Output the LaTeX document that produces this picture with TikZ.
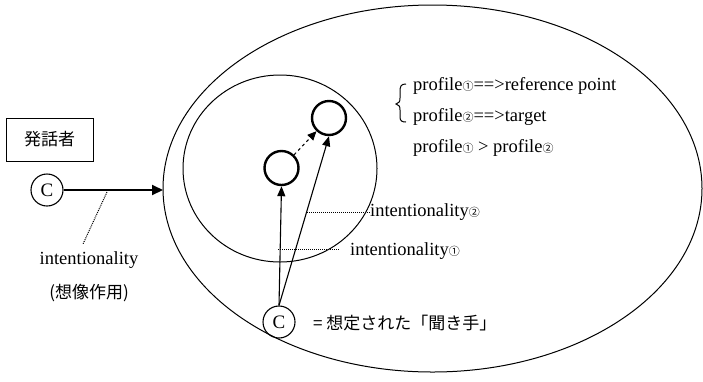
\documentclass[tikz,border=0pt]{standalone}
\usepackage{fontspec}
\setmainfont{Liberation Serif}
\newfontfamily\jp{Noto Sans CJK JP}
\usetikzlibrary{arrows.meta}
\newcommand{\cnum}[1]{{\jp\fontsize{11}{11}\selectfont #1}}
\tikzset{
  txt/.style={font=\fontsize{18.5}{20}\selectfont, inner sep=0pt},
  jtxt/.style={font=\jp\fontsize{17}{20}\selectfont, inner sep=0pt},
  thin line/.style={line width=1pt},
  arr/.style={line width=1.1pt, -{Triangle[length=10pt,width=8pt]}},
  smallc/.style={circle, draw, line width=2.4pt, minimum size=34pt, inner sep=0pt},
  cc/.style={circle, draw, line width=1.1pt, minimum size=32pt, inner sep=0pt, font=\fontsize{19}{20}\selectfont},
  leader/.style={line width=1pt, densely dotted},
}
\begin{document}
\begin{tikzpicture}[x=1pt,y=-1pt]
\useasboundingbox (0,0) rectangle (703,381);
% outer ellipse and inner circle
\draw[thin line] (432.5,188.5) ellipse [x radius=269.5pt, y radius=183.5pt];
\draw[thin line] (280,168.5) ellipse [x radius=97pt, y radius=93.5pt];
% speaker
\node[draw, line width=1pt, minimum width=87pt, minimum height=43pt, jtxt] (spk) at (49.5,139.5) {発話者};
\node[cc] (c1) at (47,190) {C};
\coordinate (hit) at (163,190);
\draw[line width=2pt, -{Triangle[length=11pt,width=10pt]}] (c1) -- (hit);
\coordinate (d1) at (107,192);
\node[txt] (int0) at (89,260) {intentionality};
\node[jtxt] (sozo) at (89,293) {(想像作用)};
\draw[leader] (d1) -- (83,244);
% inner small circles
\node[smallc] (p1) at (281.5,168) {};
\node[smallc] (p2) at (329,118) {};
\draw[line width=1pt, dashed, -{Triangle[length=9pt,width=8pt]}] (p1) -- (p2);
% hearer
\node[cc] (c2) at (279,322) {C};
\node[jtxt, anchor=west] (hear) at (313,323) {= 想定された「聞き手」};
\draw[arr] (c2.north) -- (p1.south);
\draw[arr] (c2.north) -- (p2.south);
% intentionality labels
\node[txt, anchor=west] (i2) at (370,212) {intentionality\cnum{②}};
\node[txt, anchor=west] (i1) at (350,251) {intentionality\cnum{①}};
\coordinate (l2) at (307,212);
\coordinate (l1) at (278,249);
\draw[leader] (l2) -- (i2.west);
\draw[leader] (l1) -- (340,249);
% profile texts
\node[txt, anchor=west] (pr1) at (413,86) {profile\cnum{①}==>reference point};
\node[txt, anchor=west] (pr2) at (413,117) {profile\cnum{②}==>target};
\node[txt, anchor=west] (pr3) at (413,148) {profile\cnum{①} > profile\cnum{②}};
\draw[line width=1pt] (406,84) .. controls (401,84) and (400,86) .. (400,92)
  -- (400,98) .. controls (400,102) and (399,103) .. (396,104)
  .. controls (399,105) and (400,106) .. (400,110) -- (400,117)
  .. controls (400,121) and (402,122) .. (406,122);
\end{tikzpicture}
\end{document}
